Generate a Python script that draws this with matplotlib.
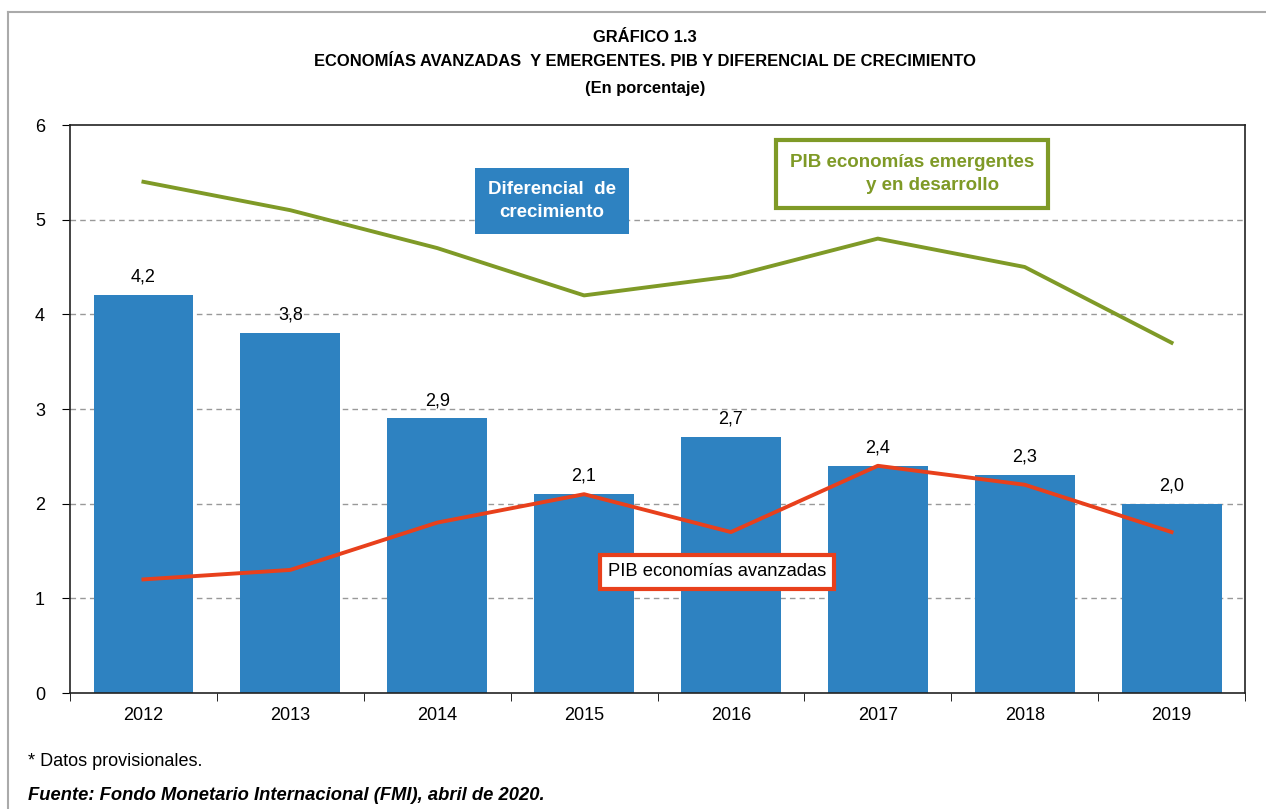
import matplotlib
matplotlib.use("Agg")
from matplotlib import pyplot as plt
from matplotlib.lines import Line2D
import numpy as np

plt.rcParams['font.family'] = ['Liberation Sans', 'DejaVu Sans']

years = ['2012', '2013', '2014', '2015', '2016', '2017', '2018', '2019']
diferencial = [4.2, 3.8, 2.9, 2.1, 2.7, 2.4, 2.3, 2.0]
emergentes = [5.4, 5.1, 4.7, 4.2, 4.4, 4.8, 4.5, 3.7]
avanzadas = [1.2, 1.3, 1.8, 2.1, 1.7, 2.4, 2.2, 1.7]

blue = '#2E82C1'
green = '#7F9A27'
red = '#E8401C'

fig = plt.figure(figsize=(12.66, 8.09), dpi=100)
ax = fig.add_axes([70/1266, 1-693/809, (1245-70)/1266, (693-125)/809])

x = np.arange(len(years))
ax.bar(x, diferencial, width=0.68, color=blue, zorder=2)
for xi, v in zip(x, diferencial):
    ax.text(xi, v + 0.1, f"{v:.1f}".replace('.', ','), ha='center', va='bottom', fontsize=13)

ax.plot(x, emergentes, color=green, lw=2.8, zorder=3)
ax.plot(x, avanzadas, color=red, lw=2.8, zorder=3)

ax.set_xlim(-0.5, len(years) - 0.5)
ax.set_ylim(0, 6)
ax.set_yticks(range(0, 7))
ax.tick_params(axis='y', labelsize=13, direction='out', length=6, pad=12)
ax.set_xticks(x)
ax.set_xticklabels(years, fontsize=13)
ax.tick_params(axis='x', length=0, pad=10)
ax.set_xticks(np.arange(-0.5, len(years)), minor=True)
ax.tick_params(axis='x', which='minor', length=6, direction='out')
for yv in range(1, 6):
    ax.axhline(yv, color='#999999', lw=1, ls=(0, (4, 3)), zorder=1)
for s in ax.spines.values():
    s.set_linewidth(1.2)
    s.set_color('#222222')

# etiquetas
fig.text(552/1266, 1-201/809, 'Diferencial  de\ncrecimiento', ha='center', va='center',
         color='white', fontsize=13.5, fontweight='bold', linespacing=1.5,
         bbox=dict(boxstyle='square,pad=0.7', fc=blue, ec='none'))
fig.text(912/1266, 1-174/809, 'PIB economías emergentes\n        y en desarrollo', ha='center', va='center',
         color=green, fontsize=13.5, fontweight='bold', linespacing=1.5,
         bbox=dict(boxstyle='square,pad=0.72', fc='white', ec=green, lw=3))
fig.text(717/1266, 1-572/809, 'PIB economías avanzadas', ha='center', va='center',
         color='black', fontsize=13.2,
         bbox=dict(boxstyle='square,pad=0.45', fc='white', ec=red, lw=3))

# titulos
tx = 645/1266
fig.text(tx, 1-38/809, 'GRÁFICO 1.3', ha='center', va='center', fontsize=11.9, fontweight='bold')
fig.text(tx, 1-62/809, 'ECONOMÍAS AVANZADAS  Y EMERGENTES. PIB Y DIFERENCIAL DE CRECIMIENTO',
         ha='center', va='center', fontsize=11.9, fontweight='bold')
fig.text(tx, 1-88/809, '(En porcentaje)', ha='center', va='center', fontsize=11.9, fontweight='bold')

fig.text(28/1266, 1-762/809, '* Datos provisionales.', ha='left', va='center', fontsize=13)
fig.text(28/1266, 1-795/809, 'Fuente: Fondo Monetario Internacional (FMI), abril de 2020.',
         ha='left', va='center', fontsize=13.2, fontweight='bold', fontstyle='italic')

# marco de pagina
fig.add_artist(Line2D([8/1266, 1], [1-12/809, 1-12/809], color='#aaaaaa', lw=1.5, transform=fig.transFigure))
fig.add_artist(Line2D([8/1266, 8/1266], [0, 1-12/809], color='#aaaaaa', lw=1.5, transform=fig.transFigure))

fig.savefig('out.png', dpi=100)
